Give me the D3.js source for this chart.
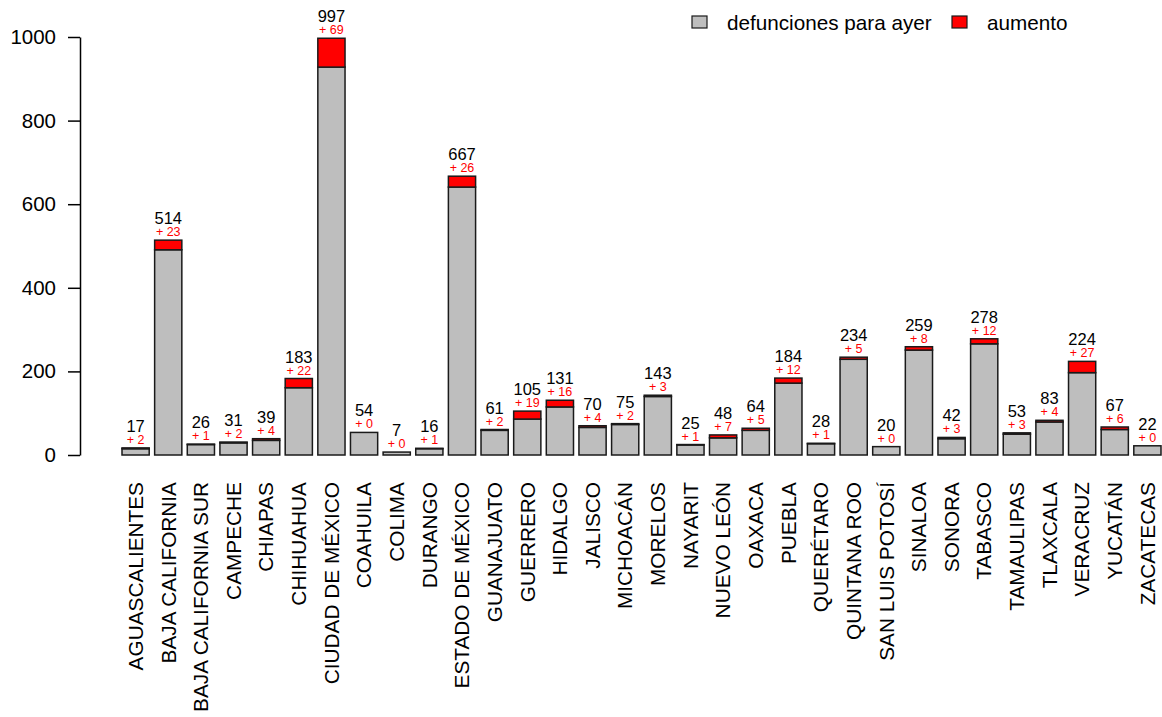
<!DOCTYPE html>
<html>
<head>
<meta charset="utf-8">
<script src="https://cdn.jsdelivr.net/npm/d3@7"></script>
<style>
  body { margin: 0; background: #fff; }
  svg { font-family: "Liberation Sans", Arial, sans-serif; }
</style>
</head>
<body>
<svg></svg>
<script>
var estados = ["AGUASCALIENTES", "BAJA CALIFORNIA", "BAJA CALIFORNIA SUR", "CAMPECHE", "CHIAPAS",
               "CHIHUAHUA", "CIUDAD DE MÉXICO", "COAHUILA", "COLIMA", "DURANGO", "ESTADO DE MÉXICO",
               "GUANAJUATO", "GUERRERO", "HIDALGO", "JALISCO", "MICHOACÁN", "MORELOS", "NAYARIT",
               "NUEVO LEÓN", "OAXACA", "PUEBLA", "QUERÉTARO", "QUINTANA ROO", "SAN LUIS POTOSÍ",
               "SINALOA", "SONORA", "TABASCO", "TAMAULIPAS", "TLAXCALA", "VERACRUZ", "YUCATÁN", "ZACATECAS"];
var totales = [17, 514, 26, 31, 39, 183, 997, 54, 7, 16, 667, 61, 105, 131, 70, 75, 143, 25,
               48, 64, 184, 28, 234, 20, 259, 42, 278, 53, 83, 224, 67, 22];
var aumento = [2, 23, 1, 2, 4, 22, 69, 0, 0, 1, 26, 2, 19, 16, 4, 2, 3, 1,
               7, 5, 12, 1, 5, 0, 8, 3, 12, 3, 4, 27, 6, 0];
var yTicks = [0, 200, 400, 600, 800, 1000];
var leyenda = ["defunciones para ayer", "aumento"];

var w = 1162, h = 717;
var svg = d3.select("svg").attr("width", w).attr("height", h);

var x = d3.scaleBand()
  .domain(estados)
  .range([122, 1161])
  .paddingInner(1/6)
  .paddingOuter(0);

var y = d3.scaleLinear().domain([0, 1000]).range([455, 37]);

var datos = estados.map(function(e, i) {
  return {estado: e, total: totales[i], aum: aumento[i], ayer: totales[i] - aumento[i]};
});

// eje y
var yAxis = svg.append("g")
  .attr("transform", "translate(80,0)")
  .call(d3.axisLeft(y).tickValues(yTicks).tickFormat(d3.format("d"))
    .tickSize(12).tickPadding(12).tickSizeOuter(0));
yAxis.select(".domain").attr("stroke", "#000").attr("stroke-width", 1.5);
yAxis.selectAll(".tick line").attr("stroke", "#000").attr("stroke-width", 1.5);
yAxis.selectAll("text").attr("font-size", 20.5).attr("fill", "#000")
  .attr("font-family", "Liberation Sans, Arial, sans-serif");

var barras = svg.append("g").selectAll("g")
  .data(datos)
  .enter()
  .append("g");

barras.append("rect")
  .attr("x", function(d) { return x(d.estado); })
  .attr("width", x.bandwidth())
  .attr("y", function(d) { return y(d.ayer); })
  .attr("height", function(d) { return y(0) - y(d.ayer); })
  .attr("fill", "#bebebe")
  .attr("stroke", "#1a1a1a")
  .attr("stroke-width", 1.5);

barras.filter(function(d) { return d.aum > 0; })
  .append("rect")
  .attr("x", function(d) { return x(d.estado); })
  .attr("width", x.bandwidth())
  .attr("y", function(d) { return y(d.total); })
  .attr("height", function(d) { return y(d.ayer) - y(d.total); })
  .attr("fill", "#ff0000")
  .attr("stroke", "#1a1a1a")
  .attr("stroke-width", 1.5);

barras.append("text")
  .attr("x", function(d) { return x(d.estado) + x.bandwidth() / 2; })
  .attr("y", function(d) { return y(d.total) - 16; })
  .attr("text-anchor", "middle")
  .attr("font-size", 16.5)
  .attr("fill", "#000")
  .text(function(d) { return d.total; });

barras.append("text")
  .attr("x", function(d) { return x(d.estado) + x.bandwidth() / 2; })
  .attr("y", function(d) { return y(d.total) - 4; })
  .attr("text-anchor", "middle")
  .attr("font-size", 12.5)
  .attr("fill", "#ff0000")
  .text(function(d) { return "+ " + d.aum; });

// etiquetas del eje x
svg.append("g").selectAll("text")
  .data(estados)
  .enter()
  .append("text")
  .attr("transform", function(d) {
    return "translate(" + (x(d) + x.bandwidth() / 2) + ",482) rotate(-90)";
  })
  .attr("dy", "0.35em")
  .attr("text-anchor", "end")
  .attr("font-size", 20.8)
  .attr("fill", "#000")
  .text(function(d) { return d; });

// leyenda
var leg = svg.append("g");
var legX = [692, 952], colores = ["#bebebe", "#ff0000"];
leyenda.forEach(function(t, i) {
  leg.append("rect")
    .attr("x", legX[i]).attr("y", 16)
    .attr("width", 15).attr("height", 12)
    .attr("fill", colores[i])
    .attr("stroke", "#1a1a1a").attr("stroke-width", 1.2);
  leg.append("text")
    .attr("x", legX[i] + 35).attr("y", 29.5)
    .attr("font-size", 20.7)
    .attr("fill", "#000")
    .text(t);
});
</script>
</body>
</html>
